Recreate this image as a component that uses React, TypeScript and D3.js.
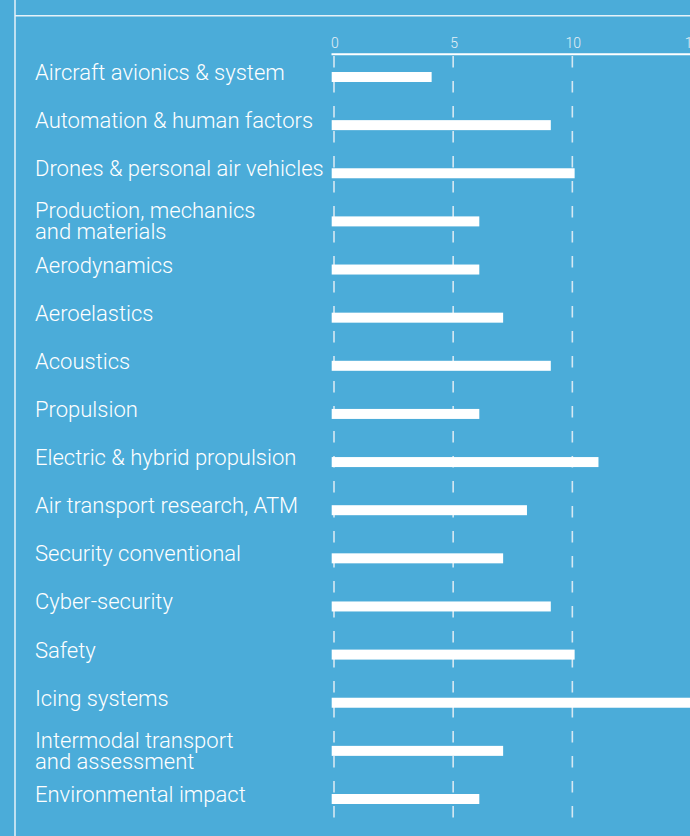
import React, { useEffect, useRef } from "react";
import * as d3 from "d3";

const categories = [
  "Aircraft avionics & system",
  "Automation & human factors",
  "Drones & personal air vehicles",
  "Production, mechanics\nand materials",
  "Aerodynamics",
  "Aeroelastics",
  "Acoustics",
  "Propulsion",
  "Electric & hybrid propulsion",
  "Air transport research, ATM",
  "Security conventional",
  "Cyber-security",
  "Safety",
  "Icing systems",
  "Intermodal transport\nand assessment",
  "Environmental impact",
];
const values = [4, 9, 10, 6, 6, 7, 9, 6, 11, 8, 7, 9, 10, 16, 7, 6];
const tickValues = [0, 5, 10, 15];

const W = 690;
const H = 836;
const BG = "#4bacd9";
const FONT = "Roboto, 'Noto Sans', sans-serif";

const App: React.FC = () => {
  const svgRef = useRef<SVGSVGElement | null>(null);

  useEffect(() => {
    document.body.style.margin = "0";
    document.body.style.overflow = "hidden";
    if (!svgRef.current) return;

    const svg = d3.select(svgRef.current);
    svg.selectAll("*").remove();

    svg.append("rect").attr("width", W).attr("height", H).attr("fill", BG);

    // frame lines
    svg.append("line")
      .attr("x1", 15).attr("x2", 15).attr("y1", 0).attr("y2", H)
      .attr("stroke", "#e6f2f9").attr("stroke-width", 1.5);
    svg.append("line")
      .attr("x1", 15).attr("x2", W).attr("y1", 15.7).attr("y2", 15.7)
      .attr("stroke", "#e6f2f9").attr("stroke-width", 1.5);

    const x = d3.scaleLinear().domain([0, 15]).range([334, 691.5]);
    const y = d3.scalePoint<string>().domain(categories).range([77, 799]);

    // dashed grid
    svg.selectAll(".grid")
      .data(tickValues)
      .enter()
      .append("line")
      .attr("x1", (d) => x(d))
      .attr("x2", (d) => x(d))
      .attr("y1", 56)
      .attr("y2", 822)
      .attr("stroke", "#d6e8f2")
      .attr("stroke-width", 1.6)
      .attr("stroke-dasharray", "11.5 13.5");

    // top axis line
    svg.append("line")
      .attr("x1", x(0) - 2.5).attr("x2", W)
      .attr("y1", 54.3).attr("y2", 54.3)
      .attr("stroke", "#fff").attr("stroke-width", 2);

    svg.selectAll(".tick-label")
      .data(tickValues)
      .enter()
      .append("text")
      .attr("x", (d) => x(d) + 1)
      .attr("y", 47.5)
      .attr("text-anchor", "middle")
      .style("font-family", FONT)
      .style("font-size", "14px")
      .style("font-weight", 300)
      .style("fill", "#e3eff6")
      .text((d) => d);

    // bars
    svg.selectAll(".bar")
      .data(values)
      .enter()
      .append("rect")
      .attr("x", x(0) - 2.3)
      .attr("y", (_, i) => (y(categories[i]) as number) - 5)
      .attr("width", (d) => x(d) - x(0) + 4.6)
      .attr("height", 10)
      .attr("fill", "#fff");

    // labels
    const labels = svg.selectAll(".label")
      .data(categories)
      .enter()
      .append("text")
      .attr("x", 35)
      .attr("y", (d) => {
        const lines = d.split("\n");
        return (y(d) as number) + (lines.length > 1 ? -3 : 3);
      })
      .style("font-family", FONT)
      .style("font-size", "22px")
      .style("font-weight", 300)
      .style("fill", "#fff");

    labels.each(function (d) {
      const t = d3.select(this);
      d.split("\n").forEach((line, i) => {
        t.append("tspan")
          .attr("x", 35)
          .attr("dy", i === 0 ? 0 : 21)
          .text(line);
      });
    });
  }, []);

  return <svg ref={svgRef} width={W} height={H} style={{ display: "block" }} />;
};

export default App;
